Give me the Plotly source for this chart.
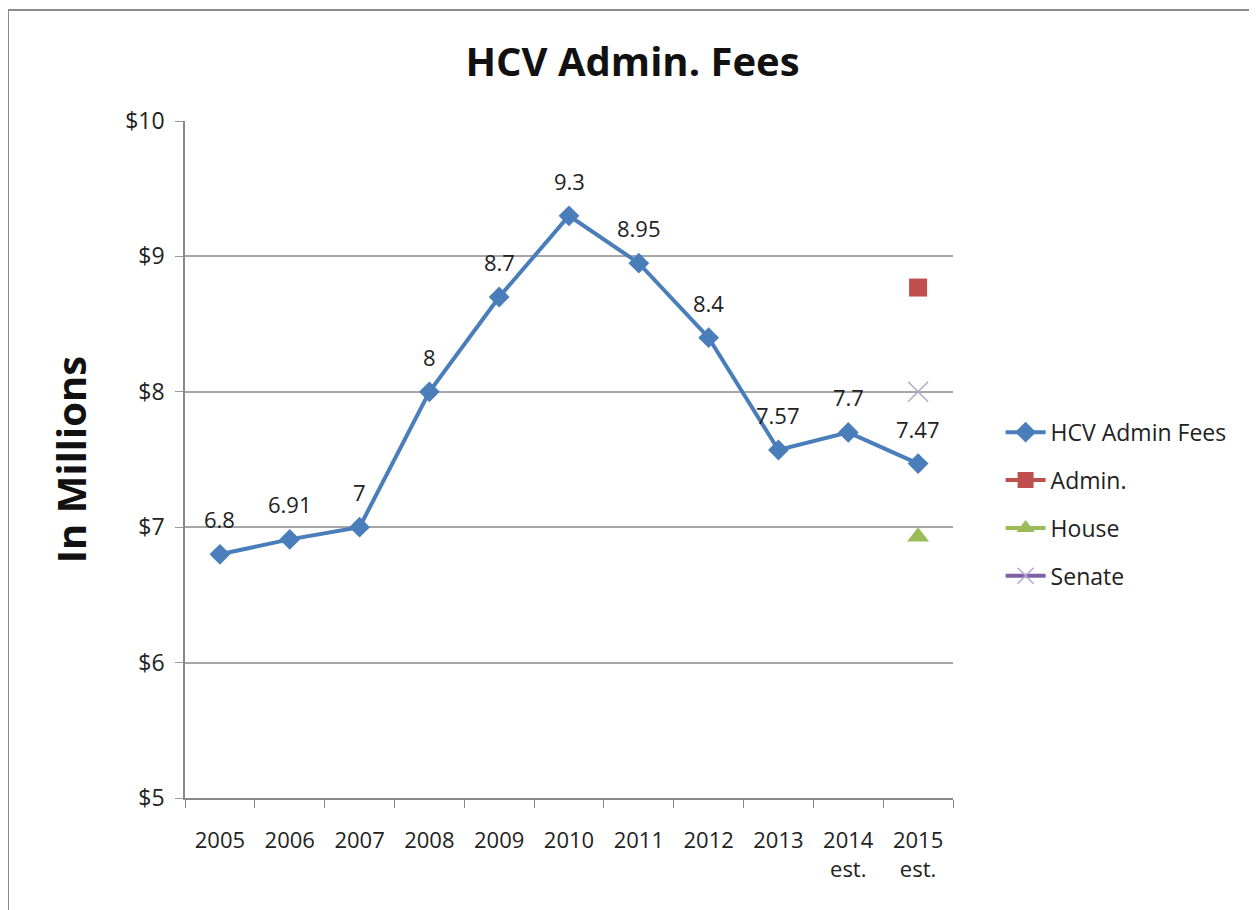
import plotly.graph_objects as go

categories = ["2005", "2006", "2007", "2008", "2009", "2010", "2011", "2012", "2013", "2014<br>est.", "2015<br>est."]
hcv_fees = [6.8, 6.91, 7.0, 8.0, 8.7, 9.3, 8.95, 8.4, 7.57, 7.7, 7.47]
hcv_labels = ["6.8", "6.91", "7", "8", "8.7", "9.3", "8.95", "8.4", "7.57", "7.7", "7.47"]
proposal_category = ["2015<br>est."]
admin_value = [8.77]
house_value = [6.93]
senate_value = [8.0]
y_ticks = [5, 6, 7, 8, 9, 10]
y_tick_text = ["$5", "$6", "$7", "$8", "$9", "$10"]

FONT = "Open Sans"
TXT = "#222222"

fig = go.Figure()
fig.add_trace(go.Scatter(
    x=categories, y=hcv_fees, name="HCV Admin Fees", mode="lines+markers",
    line=dict(color="#4A7EBB", width=4),
    marker=dict(symbol="diamond", size=16, color="#4A7EBB"),
    legendgroup="a",
))
fig.add_trace(go.Scatter(
    x=proposal_category, y=admin_value, name="Admin.", mode="lines+markers",
    line=dict(color="#C0504D", width=4),
    marker=dict(symbol="square", size=18, color="#C0504D"),
    legendgroup="b",
))
fig.add_trace(go.Scatter(
    x=proposal_category, y=house_value, name="House", mode="lines+markers",
    line=dict(color="#9BBB59", width=4),
    marker=dict(symbol="triangle-up", size=19, color="#9BBB59"),
    legendgroup="c",
))
fig.add_trace(go.Scatter(
    x=proposal_category, y=senate_value, name="Senate", mode="lines+markers",
    line=dict(color="#7F5FA8", width=4),
    marker=dict(symbol="x-thin", size=20, color="#B6A6CC",
                line=dict(color="#B6A6CC", width=1.5)),
    legendgroup="d",
))

for i, (v, t) in enumerate(zip(hcv_fees, hcv_labels)):
    fig.add_annotation(x=i, y=v, text=t, showarrow=False, yshift=35,
                       font=dict(family=FONT, size=22, color=TXT))

fig.update_layout(
    width=1249, height=902,
    paper_bgcolor="white", plot_bgcolor="white",
    margin=dict(l=177, r=304, t=113, b=112),
    title=dict(text="<b>HCV Admin. Fees</b>", x=0.5, xanchor="center",
               xref="container", yref="container",
               y=0.94, yanchor="middle",
               font=dict(family=FONT, size=40, color="#111111")),
    font=dict(family=FONT, size=22, color=TXT),
    showlegend=True,
    legend=dict(x=1.062, xanchor="left", y=0.434, yanchor="middle",
                traceorder="grouped", tracegroupgap=15,
                font=dict(family=FONT, size=23, color=TXT),
                bgcolor="rgba(0,0,0,0)", itemwidth=40),
    shapes=[dict(type="rect", xref="paper", yref="paper",
                 x0=-0.2305, x1=1.392, y0=-0.2, y1=1.164,
                 line=dict(color="#8A8A8A", width=2), layer="below")],
)
fig.update_xaxes(
    type="category", range=[-0.5, 10.5], tickson="boundaries",
    ticks="outside", ticklen=8, tickcolor="#888888",
    showline=True, linecolor="#888888", linewidth=1.5,
    showgrid=False, tickfont=dict(family=FONT, size=22, color=TXT),
    ticklabelstandoff=22,
)
fig.update_yaxes(
    range=[5, 10], tickvals=y_ticks, ticktext=y_tick_text,
    ticks="outside", ticklen=8, tickcolor="#999999",
    showline=True, linecolor="#888888", linewidth=1.5,
    showgrid=True, gridcolor="#A6A6A6", gridwidth=1.5,
    zeroline=False, tickfont=dict(family=FONT, size=23, color=TXT),
    ticklabelstandoff=6,
    title=dict(text="<b>In Millions</b>", standoff=26,
               font=dict(family=FONT, size=40, color="#111111")),
)

fig.write_html("out.html")
